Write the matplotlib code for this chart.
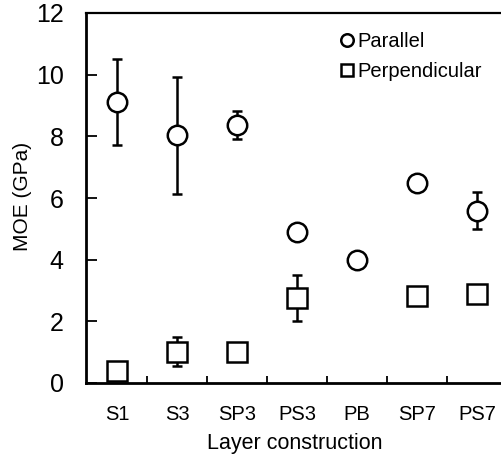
import matplotlib.pyplot as plt
import numpy as np

plt.rcParams['font.family'] = ['Liberation Sans', 'DejaVu Sans']

# Layer constructions
labels = ['S1', 'S3', 'SP3', 'PS3', 'PB', 'SP7', 'PS7']

# MOE (GPa), parallel direction
par_mean = [9.12, 8.04, 8.37, 4.91, 3.99, 6.48, 5.58]
par_err = [1.39, 1.90, 0.46, 0.0, 0.0, 0.0, 0.60]

# MOE (GPa), perpendicular direction
perp_mean = [0.40, 1.02, 0.99, 2.75, np.nan, 2.82, 2.88]
perp_err = [0.0, 0.47, 0.0, 0.75, 0.0, 0.0, 0.0]

x = np.arange(len(labels))

fig = plt.figure(figsize=(5.02, 4.58), dpi=100)
ax = fig.add_axes([86 / 502, 75 / 458, 421 / 502, 370 / 458])

# error bars only where there is an error
pe = np.array(par_err)
m = pe > 0
ax.errorbar(x[m], np.array(par_mean)[m], yerr=pe[m], fmt='none', ecolor='black',
            elinewidth=1.8, capsize=3.6, capthick=1.8, zorder=2)
qe = np.array(perp_err)
m = qe > 0
ax.errorbar(x[m], np.array(perp_mean)[m], yerr=qe[m], fmt='none', ecolor='black',
            elinewidth=1.8, capsize=3.6, capthick=1.8, zorder=2)

ax.plot(x, par_mean, 'o', ms=14, mfc='white', mec='black', mew=1.8, zorder=3)
ax.plot(x, perp_mean, 's', ms=14, mfc='white', mec='black', mew=1.8, zorder=3)

# legend entries
lp, = ax.plot([], [], 'o', ms=9, mfc='white', mec='black', mew=1.8, label='Parallel')
lq, = ax.plot([], [], 's', ms=9, mfc='white', mec='black', mew=1.8, label='Perpendicular')
ax.legend(handles=[lp, lq], loc='upper left', bbox_to_anchor=(0.59, 0.97),
          frameon=False, fontsize=14.5, handlelength=0.5, handletextpad=0.25,
          borderaxespad=0, labelspacing=0.55)

ax.set_xlim(-0.52, 6.5)
ax.set_ylim(0, 12)
ax.set_yticks(np.arange(0, 13, 2))
ax.set_xticks(x)
ax.set_xticklabels(labels)
ax.set_xticks(x[:-1] + 0.5, minor=True)

ax.tick_params(axis='y', direction='in', length=8, width=1.3, pad=16, labelsize=18)
ax.tick_params(axis='x', which='major', length=0, pad=16, labelsize=14.5)
ax.tick_params(axis='x', which='minor', direction='in', length=5, width=1.3)

for s in ['left', 'bottom']:
    ax.spines[s].set_linewidth(2)
ax.spines['top'].set_linewidth(1.6)
ax.spines['right'].set_visible(False)

ax.set_ylabel('MOE (GPa)', fontsize=15)
ax.yaxis.set_label_coords(-0.128, 0.504)
ax.set_xlabel('Layer construction', fontsize=15.5)
ax.xaxis.set_label_coords(0.496, -0.135)

fig.savefig('out.png', dpi=100)
